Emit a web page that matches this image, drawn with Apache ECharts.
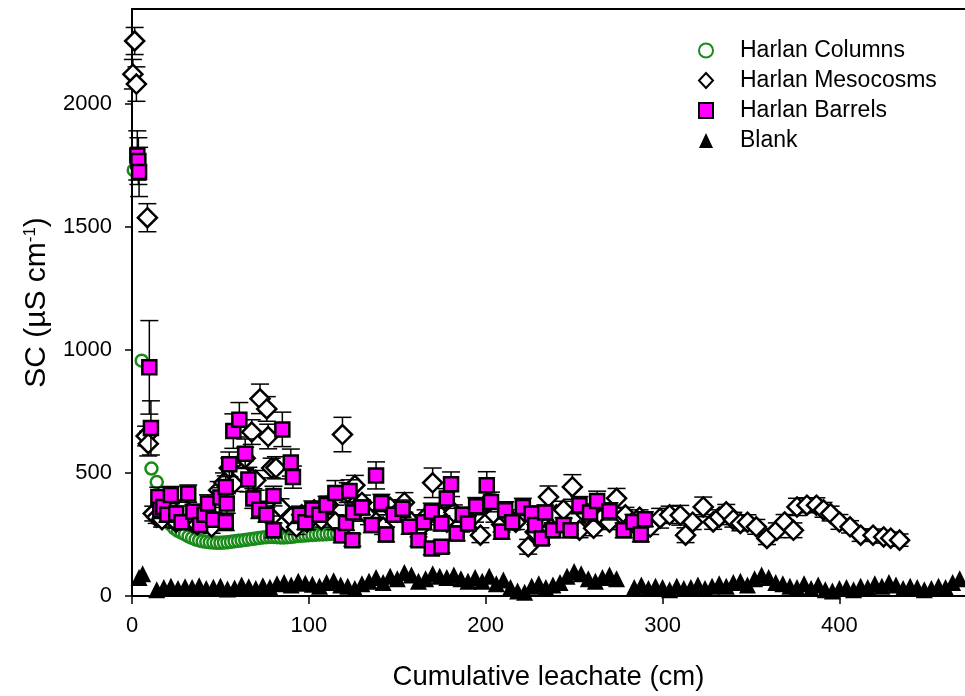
<!DOCTYPE html>
<html>
<head>
<meta charset="utf-8">
<script src="https://cdn.jsdelivr.net/npm/echarts@6/dist/echarts.min.js"></script>
<style>
  html, body { margin: 0; padding: 0; background: #fff; }
  #chart { width: 965px; height: 696px; }
</style>
</head>
<body>
<div id="chart"></div>
<script>
// values: [cumulative leachate (cm), SC]
var columns = [
  [1, 1730], [5.5, 956], [7.4, 652], [11, 518], [14, 463],
  [16, 400], [18, 350], [20, 310], [22, 290], [24, 275], [26, 265], [28, 258], [30, 250], [32, 242], [34, 236],
  [36, 230], [38, 226], [40, 222], [42, 220], [44, 218], [46, 217], [48, 216], [50, 216], [52, 217], [54, 218],
  [56, 220], [58, 222], [60, 224], [62, 226], [64, 228], [66, 230], [68, 232], [70, 234], [72, 236], [74, 238],
  [76, 239], [78, 240], [80, 240], [82, 239], [84, 238], [86, 238], [88, 239], [90, 240], [92, 242], [94, 244],
  [96, 245], [98, 246], [100, 247], [102, 248], [104, 249], [106, 250], [108, 250], [110, 251], [112, 252], [114, 252], [116, 253]
];

// [x, y, error]
var mesocosms = [
  [0.5, 2120, 60], [1.5, 2255, 55], [2.5, 2080, 70], [8.7, 1537, 57], [8, 650, 40], [9.2, 619, 50],
  [12, 335, 30], [14, 320, 25], [17, 310, 30], [21, 330, 30], [25, 300, 25], [29, 360, 30], [33, 310, 30],
  [37, 290, 25], [41, 300, 30], [45, 280, 25], [49, 430, 35], [52, 460, 40], [55, 520, 40], [58, 460, 35],
  [62, 500, 40], [64, 560, 45], [67.7, 666, 50], [70, 470, 40], [72.4, 801, 60], [76.2, 760, 50], [77, 648, 50],
  [79, 520, 40], [81.4, 521, 45], [84, 360, 35], [87, 300, 30], [90, 320, 30], [93, 280, 30], [96, 330, 30],
  [99, 300, 30], [103, 350, 30], [107, 310, 30], [111, 370, 35], [115, 300, 30], [119, 656, 70], [122, 420, 40],
  [126, 450, 40], [130, 380, 30], [134, 320, 30], [138, 300, 30], [142, 280, 30], [146, 360, 30], [150, 340, 30],
  [154, 380, 40], [158, 300, 30], [162, 270, 30], [166, 320, 30], [170, 460, 60], [174, 330, 30], [178, 300, 30],
  [182, 340, 30], [186, 290, 30], [190, 310, 30], [194, 330, 30], [197, 247, 30], [201, 380, 40], [205, 330, 30],
  [209, 290, 30], [213, 320, 30], [217, 300, 30], [224, 200, 30], [228, 260, 30], [231, 310, 30], [235.5, 402, 45],
  [240, 330, 30], [244, 350, 35], [249, 443, 50], [253, 267, 30], [257, 330, 30], [261, 275, 30], [266, 320, 30],
  [270, 300, 30], [274, 397, 40], [279, 330, 30], [283, 300, 30], [287, 320, 30], [293, 280, 30], [298.6, 316, 40],
  [304, 330, 35], [310, 328, 40], [313, 247, 30], [317, 300, 30], [323, 362, 40], [328.6, 301, 30], [332, 320, 30],
  [336, 342, 30], [340, 310, 30], [344, 295, 30], [348, 300, 30], [353, 281, 30], [359, 234, 25], [364.6, 267, 30],
  [369, 301, 30], [374, 267, 30], [376, 362, 35], [381.6, 369, 30], [387, 369, 30], [391, 350, 30], [395, 335, 30],
  [400, 301, 30], [406, 281, 25], [412, 247, 25], [419, 247, 25], [425, 240, 25], [429, 235, 25], [434, 227, 25]
];

// [x, y, error]
var barrels = [
  [3, 1790, 100], [3.6, 1767, 95], [4, 1723, 100], [9.8, 929, 190], [10.7, 683, 110], [14.9, 402, 40],
  [16, 350, 35], [17.7, 362, 35], [20, 330, 30], [22, 410, 35], [25, 335, 30], [28, 300, 30], [31.8, 416, 35],
  [34.7, 342, 30], [38.5, 288, 30], [41, 330, 30], [43, 376, 35], [46, 310, 30], [50, 400, 40], [53, 443, 45],
  [53.6, 376, 40], [53, 301, 35], [55, 535, 50], [57.3, 670, 70], [60.7, 716, 70], [64, 578, 60], [65.8, 473, 50],
  [68.6, 396, 40], [72, 350, 35], [76, 330, 30], [80, 406, 40], [80, 267, 30], [85, 677, 70], [89.8, 542, 55],
  [91, 483, 45], [95, 330, 35], [98, 300, 30], [102, 351, 35], [106, 330, 30], [110, 370, 35], [115, 419, 50],
  [118.6, 247, 30], [121, 297, 30], [123, 427, 45], [124.6, 227, 25], [125, 339, 35], [130, 360, 30],
  [135.6, 288, 30], [138, 490, 55], [141, 378, 35], [143.7, 250, 30], [148, 330, 30], [153, 355, 35],
  [157, 281, 30], [162, 227, 25], [165, 300, 30], [169.5, 342, 35], [169.5, 193, 25], [175, 200, 25],
  [175, 295, 30], [178, 396, 40], [180.4, 454, 50], [183.6, 254, 30], [187, 330, 30], [190, 295, 30],
  [194.6, 365, 35], [200.6, 450, 55], [203, 382, 40], [209, 261, 30], [211, 348, 35], [215, 300, 30],
  [221, 362, 35], [226, 335, 30], [228, 288, 30], [231.7, 234, 25], [233.6, 339, 30], [238, 267, 30],
  [244, 288, 30], [248, 267, 30], [253, 369, 35], [259, 339, 35], [263, 386, 40], [270, 344, 35],
  [278, 267, 30], [283.5, 301, 30], [287.7, 250, 30], [290, 312, 30]
];

var blank = [
  [4, 75], [6, 90], [14, 25], [18, 35], [22, 40], [26, 30], [30, 38], [34, 35], [38, 42], [42, 30], [46, 36],
  [50, 40], [54, 28], [58, 32], [62, 45], [66, 38], [70, 30], [74, 42], [78, 36], [82, 50], [86, 55], [90, 45],
  [94, 60], [98, 52], [102, 48], [106, 40], [110, 55], [114, 62], [118, 45], [122, 40], [126, 30], [130, 50],
  [134, 60], [138, 75], [142, 55], [146, 80], [150, 70], [154, 95], [158, 85], [162, 60], [166, 70], [170, 90],
  [174, 80], [178, 75], [182, 85], [186, 70], [190, 60], [194, 75], [198, 60], [202, 80], [206, 50], [210, 65],
  [214, 35], [218, 20], [222, 15], [226, 40], [230, 50], [234, 35], [238, 45], [242, 55], [246, 80], [250, 100],
  [254, 90], [258, 70], [262, 60], [266, 75], [270, 85], [274, 70], [284, 35], [288, 45], [292, 30], [296, 40],
  [300, 35], [304, 25], [308, 40], [312, 30], [316, 35], [320, 45], [324, 30], [328, 40], [332, 50], [336, 40],
  [340, 55], [344, 60], [348, 45], [352, 70], [356, 85], [360, 75], [364, 55], [368, 50], [372, 40], [376, 35],
  [380, 50], [384, 30], [388, 45], [392, 25], [396, 20], [400, 30], [404, 35], [408, 25], [412, 40], [416, 35],
  [420, 50], [424, 40], [428, 55], [432, 45], [436, 30], [440, 40], [444, 35], [448, 25], [452, 30], [456, 40],
  [460, 35], [464, 55], [468, 70]
];

var xTicks = [0, 100, 200, 300, 400];
var yTicks = [0, 500, 1000, 1500, 2000];

var FONT = 'Liberation Sans, Arial, sans-serif';
var X_MAX = 471;

function errorBars(rows, z) {
  return {
    type: 'custom',
    z: z,
    silent: true,
    encode: { x: 0, y: [1, 2] },
    data: rows.map(function (r) { return [r[0], r[1] - r[2], r[1] + r[2]]; }),
    renderItem: function (params, api) {
      var lo = api.coord([api.value(0), api.value(1)]);
      var hi = api.coord([api.value(0), api.value(2)]);
      var w = 9;
      var st = { stroke: '#000', lineWidth: 1.5 };
      return {
        type: 'group',
        children: [
          { type: 'line', shape: { x1: lo[0], y1: lo[1], x2: hi[0], y2: hi[1] }, style: st },
          { type: 'line', shape: { x1: hi[0] - w, y1: hi[1], x2: hi[0] + w, y2: hi[1] }, style: st },
          { type: 'line', shape: { x1: lo[0] - w, y1: lo[1], x2: lo[0] + w, y2: lo[1] }, style: st }
        ]
      };
    }
  };
}

function plain(v) { return String(v); }

var myChart = echarts.init(document.getElementById('chart'));

myChart.setOption({
  animation: false,
  textStyle: { fontFamily: FONT, color: '#000' },
  grid: { left: 132, right: 0, top: 9, bottom: 100 },
  legend: {
    data: ['Harlan Columns', 'Harlan Mesocosms', 'Harlan Barrels', 'Blank'],
    orient: 'vertical',
    left: 693,
    top: 34,
    itemWidth: 14,
    itemHeight: 15,
    itemGap: 7,
    textStyle: { fontSize: 23, color: '#000', fontFamily: FONT, padding: [0, 0, 0, 22] }
  },
  xAxis: [
    {
      type: 'value',
      min: 0,
      max: X_MAX,
      splitLine: { show: false },
      axisLine: { lineStyle: { color: '#000', width: 2 } },
      axisTick: { length: 8, lineStyle: { color: '#000', width: 1.5 }, customValues: xTicks },
      axisLabel: { fontSize: 22, color: '#000', margin: 19, fontFamily: FONT, customValues: xTicks, formatter: plain },
      name: 'Cumulative leachate (cm)',
      nameLocation: 'middle',
      nameGap: 67,
      nameTextStyle: { fontSize: 27.5, color: '#000', fontFamily: FONT }
    },
    {
      // top frame line only
      type: 'value',
      position: 'top',
      min: 0,
      max: X_MAX,
      splitLine: { show: false },
      axisLine: { onZero: false, lineStyle: { color: '#000', width: 2 } },
      axisTick: { show: false },
      axisLabel: { show: false }
    }
  ],
  yAxis: {
    type: 'value',
    min: 0,
    max: 2385,
    splitLine: { show: false },
    axisLine: { lineStyle: { color: '#000', width: 2 } },
    axisTick: { length: 7, lineStyle: { color: '#000', width: 1.5 }, customValues: yTicks },
    axisLabel: { fontSize: 22, color: '#000', margin: 20, fontFamily: FONT, customValues: yTicks, formatter: plain },
    name: 'SC (µS cm{sup|-1})',
    nameLocation: 'middle',
    nameRotate: 90,
    nameGap: 79,
    nameTextStyle: {
      fontSize: 30, color: '#000', fontFamily: FONT,
      rich: { sup: { fontSize: 17, fontFamily: FONT, color: '#000', padding: [0, 0, 14, 0] } }
    }
  },
  series: [
    {
      name: 'Blank',
      type: 'scatter',
      z: 2,
      symbol: 'triangle',
      symbolSize: 17,
      itemStyle: { color: '#000', opacity: 1 },
      data: blank
    },
    {
      name: 'Harlan Columns',
      type: 'scatter',
      z: 3,
      symbol: 'circle',
      symbolSize: 12,
      itemStyle: { color: '#fff', borderColor: '#1a8a1a', borderWidth: 2.5, opacity: 1 },
      data: columns
    },
    errorBars(mesocosms, 4),
    {
      name: 'Harlan Mesocosms',
      type: 'scatter',
      z: 5,
      symbol: 'diamond',
      symbolSize: 19,
      itemStyle: { color: '#fff', borderColor: '#000', borderWidth: 2.5, opacity: 1 },
      data: mesocosms.map(function (r) { return [r[0], r[1]]; })
    },
    errorBars(barrels, 6),
    {
      name: 'Harlan Barrels',
      type: 'scatter',
      z: 7,
      symbol: 'rect',
      symbolSize: 14,
      itemStyle: { color: '#ff00ff', borderColor: '#000', borderWidth: 2.5, opacity: 1 },
      data: barrels.map(function (r) { return [r[0], r[1]]; })
    }
  ]
});
</script>
</body>
</html>
